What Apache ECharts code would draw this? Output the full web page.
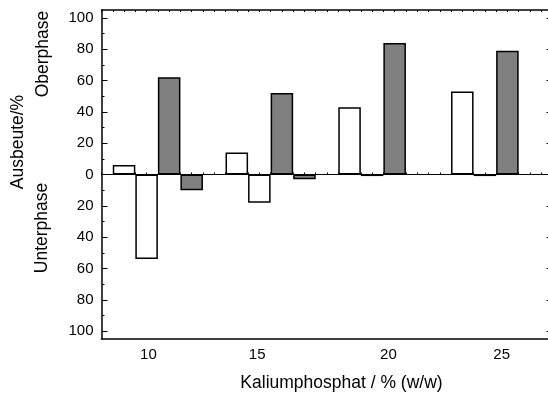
<!DOCTYPE html>
<html>
<head>
<meta charset="utf-8">
<script src="https://cdn.jsdelivr.net/npm/echarts@6/dist/echarts.min.js"></script>
<style>
  html, body { margin: 0; padding: 0; background: #fff; }
  #chart { width: 548px; height: 396px; }
</style>
</head>
<body>
<div id="chart"></div>
<script>
// Kaliumphosphat-Anteil (x) und Ausbeuten je Phase
const kategorien = ['10', '15', '20', '25'];
const weissOber = [6, 14, 43, 53];
const weissUnter = [-54, -18, -1, -1];
const grauOber = [62, 52, 84, 79];
const grauUnter = [-10, -3, null, null];
const yMarken = [-100, -80, -60, -40, -20, 0, 20, 40, 60, 80, 100];
const yZwischen = [-90, -70, -50, -30, -10, 10, 30, 50, 70, 90];

const schrift = "'Liberation Sans', Arial, sans-serif";
const schwarz = '#000';

function balken(name, data, farbe) {
  return {
    name,
    type: 'bar',
    data,
    barGap: '0%',
    barCategoryGap: '20%',
    itemStyle: { color: farbe, borderColor: schwarz, borderWidth: 1.5 },
    emphasis: { disabled: true }
  };
}

function textEl(text, x, y, rotation) {
  return {
    type: 'text',
    x, y,
    rotation: rotation || 0,
    style: {
      text,
      align: 'center',
      verticalAlign: 'middle',
      fill: schwarz,
      font: `17.5px ${schrift}`
    }
  };
}

// kleine Verschiebungen der x-Beschriftungen wie im Original
const labelRich = {
  s0: { padding: [0, 19, 0, 0] },
  s1: { padding: [0, 27, 0, 0] },
  s2: { padding: [0, 0, 0, 10] },
  s3: { padding: [0, 0, 0, 11] }
};

const chart = echarts.init(document.getElementById('chart'));
chart.setOption({
  animation: false,
  grid: { left: 101.5, top: 10, width: 451, height: 329, outerBoundsMode: 'none' },
  xAxis: [
    {
      type: 'category',
      data: kategorien,
      position: 'bottom',
      axisLine: { onZero: false, lineStyle: { color: schwarz, width: 1.5 } },
      axisTick: { show: false },
      axisLabel: {
        margin: 8,
        color: schwarz,
        fontSize: 15,
        fontFamily: schrift,
        formatter: (v, i) => `{s${i}|${v}}`,
        rich: labelRich
      }
    },
    {
      type: 'value', min: 0, max: 40, interval: 1, position: 'top',
      axisLine: { onZero: false, lineStyle: { color: schwarz, width: 1.5 } },
      axisTick: { inside: true, length: 2, lineStyle: { color: schwarz } },
      axisLabel: { show: false },
      splitLine: { show: false }
    },
    {
      type: 'value', min: 0, max: 40, interval: 1, position: 'bottom',
      axisLine: { onZero: true, onZeroAxisIndex: 0, lineStyle: { color: schwarz, width: 1 } },
      axisTick: { inside: true, length: 2, lineStyle: { color: schwarz } },
      axisLabel: { show: false },
      splitLine: { show: false }
    }
  ],
  yAxis: [
    {
      type: 'value', min: -105, max: 105, position: 'left',
      axisLine: { show: true, onZero: false, lineStyle: { color: schwarz, width: 1.5 } },
      axisTick: { show: true, inside: true, length: 6, customValues: yMarken, lineStyle: { color: schwarz } },
      axisLabel: {
        customValues: yMarken,
        formatter: v => String(Math.abs(v)),
        margin: 8,
        color: schwarz,
        fontSize: 15,
        fontFamily: schrift
      },
      splitLine: { show: false }
    },
    {
      type: 'value', min: -105, max: 105, position: 'left',
      axisLine: { show: false, onZero: false },
      axisTick: { show: true, inside: true, length: 3, customValues: yZwischen, lineStyle: { color: schwarz } },
      axisLabel: { show: false },
      splitLine: { show: false }
    },
    {
      type: 'value', min: -105, max: 105, position: 'right',
      axisLine: { show: true, onZero: false, lineStyle: { color: schwarz, width: 1.5 } },
      axisTick: { show: true, inside: true, length: 6, customValues: yMarken, lineStyle: { color: schwarz } },
      axisLabel: { show: false },
      splitLine: { show: false }
    }
  ],
  series: [
    balken('Oberphase weiß', weissOber, '#ffffff'),
    balken('Unterphase weiß', weissUnter, '#ffffff'),
    balken('Oberphase grau', grauOber, '#808080'),
    balken('Unterphase grau', grauUnter, '#808080')
  ],
  graphic: [
    textEl('Kaliumphosphat / % (w/w)', 341.5, 383),
    textEl('Ausbeute/%', 18.5, 142, Math.PI / 2),
    textEl('Oberphase', 43.5, 54, Math.PI / 2),
    textEl('Unterphase', 42, 228, Math.PI / 2)
  ]
});
</script>
</body>
</html>
